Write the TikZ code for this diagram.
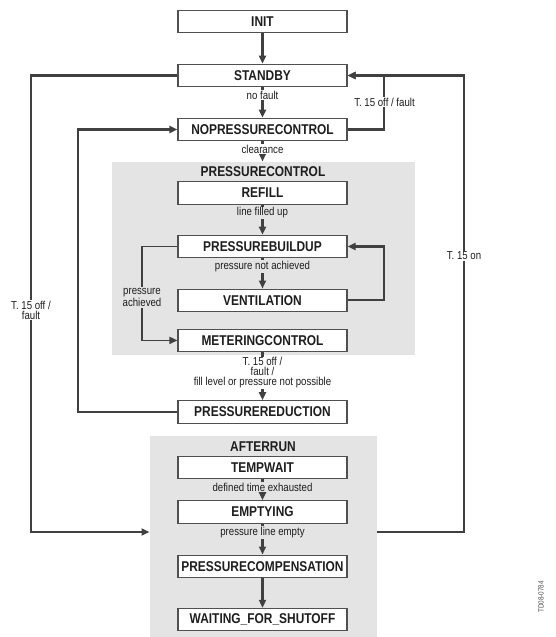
\documentclass[tikz,border=0pt]{standalone}
\usepackage{fontspec}
\setmainfont{Liberation Sans}
\newfontfamily\cnd[FakeStretch=0.84]{Liberation Sans}
\usetikzlibrary{arrows.meta}
\definecolor{regiongray}{HTML}{E4E4E4}
\definecolor{linecol}{HTML}{404040}
\definecolor{boxline}{HTML}{505050}
\definecolor{txt}{HTML}{1E1E1E}
\tikzset{
  statebox/.style={draw=boxline, line width=1.1pt, fill=white, minimum width=169pt,
    minimum height=22.5pt, inner sep=0pt, font=\cnd\bfseries\fontsize{14.2}{15}\selectfont, text=txt},
  region/.style={fill=regiongray, draw=none, inner sep=0pt, anchor=north west},
  heading/.style={font=\cnd\bfseries\fontsize{14.2}{15}\selectfont, text=txt, inner sep=0pt},
  lbl/.style={font=\cnd\fontsize{11.5}{10}\selectfont, text=txt, align=center, inner sep=1pt, fill=white},
  glbl/.style={lbl, fill=regiongray},
  conn/.style={draw=linecol, line width=2.3pt},
  arr/.style={conn, -{Triangle[length=8pt,width=7pt]}},
  thinarr/.style={arr, line width=1.7pt},
}
\begin{document}
\begin{tikzpicture}[x=1pt,y=-1pt]
\useasboundingbox (0,0) rectangle (555,637);
% regions
\node[region, minimum width=303pt, minimum height=193pt] (pcreg) at (112,161.5) {};
\node[region, minimum width=227pt, minimum height=201pt] (arreg) at (149.5,436) {};
\node[heading] (pchead) at (263,171.5) {PRESSURECONTROL};
\node[heading] (arhead) at (263,446.5) {AFTERRUN};
% states
\node[statebox] (init) at (262.5,21.3) {INIT};
\node[statebox] (standby) at (262.5,75.5) {STANDBY};
\node[statebox] (npc) at (262.5,129.5) {NOPRESSURECONTROL};
\node[statebox] (refill) at (262.5,193) {REFILL};
\node[statebox] (pbu) at (262.5,246.5) {PRESSUREBUILDUP};
\node[statebox] (vent) at (262.5,300.3) {VENTILATION};
\node[statebox] (mc) at (262.5,340.4) {METERINGCONTROL};
\node[statebox] (pr) at (262.5,412) {PRESSUREREDUCTION};
\node[statebox] (tw) at (262.5,467.3) {TEMPWAIT};
\node[statebox] (emp) at (262.5,512) {EMPTYING};
\node[statebox] (pc) at (262.5,566.3) {PRESSURECOMPENSATION};
\node[statebox] (wfs) at (262.5,619.6) {WAITING\_FOR\_SHUTOFF};
% helper coordinates
\coordinate (Lout) at (31,0);
\coordinate (Lin) at (78,0);
\coordinate (Lpc) at (142,0);
\coordinate (Rin) at (384,0);
\coordinate (Rout) at (464,0);
\coordinate (arL) at (149.5,532);
\coordinate (arR) at (376.5,532);
% vertical connectors
\draw[arr] (init.south) -- (standby.north);
\draw[arr] (standby.south) -- (npc.north);
\draw[arr] (npc.south) -- (npc.south |- pcreg.north);
\draw[arr] (refill.south) -- (pbu.north);
\draw[arr] (pbu.south) -- (vent.north);
\draw[arr] (mc.south) -- (pr.north);
\draw[arr] (tw.south) -- (emp.north);
\draw[arr] (emp.south) -- (pc.north);
\draw[arr] (pc.south) -- (wfs.north);
% loops and returns
\draw[arr] (vent.east) -| (Rin |- pbu.east) -- (pbu.east);
\draw[thinarr] (pbu.west) -| (Lpc |- mc.west) -- (mc.west);
\draw[arr] (npc.east) -| (Rin |- standby.east) -- (standby.east);
\draw[arr] (arR) -| (Rout |- standby.east) -- (standby.east);
\draw[arr] (standby.west) -| (Lout |- arL) -- (arL);
\draw[arr] (pr.west) -| (Lin |- npc.west) -- (npc.west);
% labels
\node[lbl] (l1) at (262.5,95) {no fault};
\node[lbl] (l2) at (262.5,149) {clearance};
\node[glbl] (l3) at (262.5,213) {line filled up};
\node[glbl] (l4) at (262.5,266.5) {pressure not achieved};
\node[glbl] (l5) at (142,297.5) {pressure\\achieved};
\node[lbl] (l6) at (262.5,373) {T. 15 off /\\fault /\\fill level or pressure not possible};
\node[glbl] (l7) at (262.5,487) {defined time exhausted};
\node[glbl] (l8) at (262.5,532.5) {pressure line empty};
\node[lbl] (l9) at (384.5,102) {T. 15 off / fault};
\node[lbl] (l10) at (464,256) {T. 15 on};
\node[lbl] (l11) at (31,310) {T. 15 off /\\fault};
\node[rotate=90, font=\cnd\fontsize{7.5}{7.5}\selectfont, text=black!70, inner sep=0pt] (code) at (541,597) {TD08-0784};
\end{tikzpicture}
\end{document}
